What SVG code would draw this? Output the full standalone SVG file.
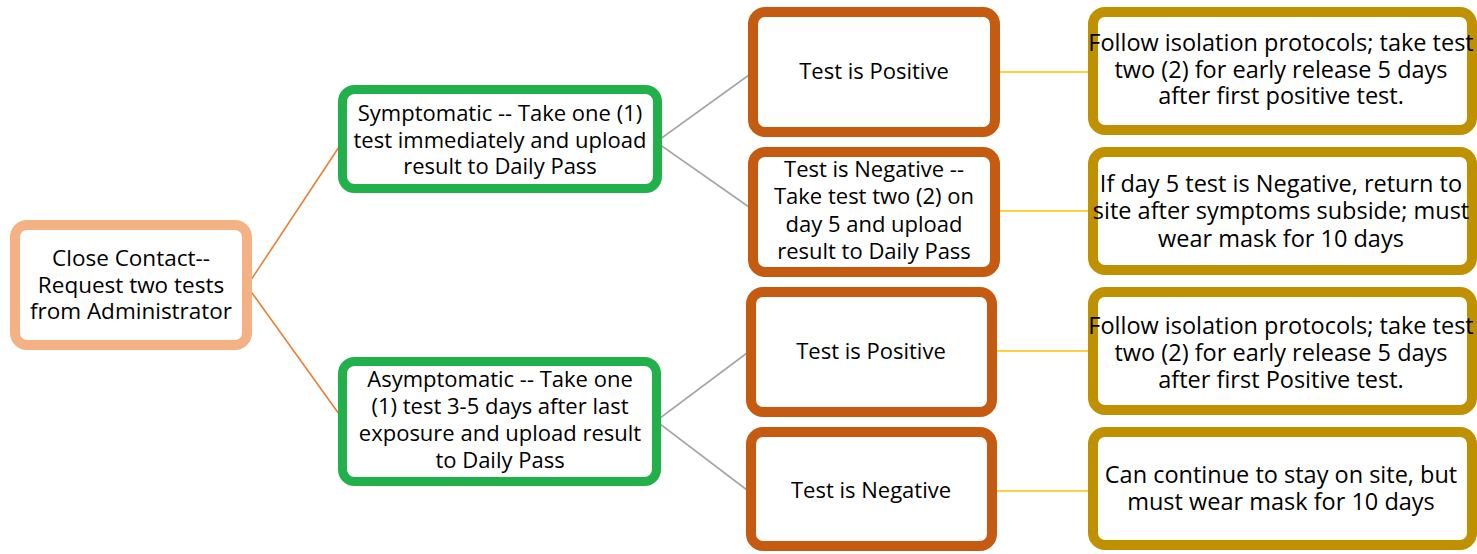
<svg xmlns="http://www.w3.org/2000/svg" width="1477" height="554" viewBox="0 0 1477 554">
<style>
text{font-family:"Open Sans","Noto Sans",sans-serif;font-size:22px;fill:#000;text-anchor:middle}
text.big{font-size:23.5px}
text.mid{font-size:22.5px}
.box{fill:#fff;stroke-width:10}
.root{stroke:#F4B183}
.lvl1{stroke:#22B04B;stroke-width:9}
.lvl2{stroke:#C55A11}
.lvl3{stroke:#BF9000}
.c-or{stroke:#ED7D31;stroke-width:1.6;fill:none}
.c-gr{stroke:#A5A5A5;stroke-width:1.6;fill:none}
.c-ye{stroke:#FFC000;stroke-width:1.6;fill:none}
</style>
<rect width="1477" height="554" fill="#fff"/>
<g id="connectors">
<polyline class="c-or" points="339,147 247,286 339,414"/>
<polyline class="c-gr" points="749,75 656,142 749,207"/>
<polyline class="c-gr" points="747,353 656,421 747,490"/>
<line class="c-ye" x1="998" y1="72" x2="1090" y2="72"/>
<line class="c-ye" x1="998" y1="211" x2="1090" y2="211"/>
<line class="c-ye" x1="996" y1="351" x2="1088" y2="351"/>
<line class="c-ye" x1="996" y1="491" x2="1088" y2="491"/>
</g>
<g id="close-contact">
<rect class="box root" x="15" y="225" width="232" height="120" rx="12"/>
<text class="mid" y="266"><tspan x="131">Close Contact--</tspan><tspan x="131" dy="26.5">Request two tests</tspan><tspan x="131" dy="26.5">from Administrator</tspan></text>
</g>
<g id="symptomatic">
<rect class="box lvl1" x="342.5" y="89.5" width="315" height="99" rx="12"/>
<text y="121"><tspan x="500">Symptomatic -- Take one (1)</tspan><tspan x="500" dy="26.5">test immediately and upload</tspan><tspan x="500" dy="26.5">result to Daily Pass</tspan></text>
</g>
<g id="asymptomatic">
<rect class="box lvl1" x="342.5" y="361.5" width="314" height="120" rx="12"/>
<text y="387"><tspan x="500">Asymptomatic -- Take one</tspan><tspan x="500" dy="27">(1) test 3-5 days after last</tspan><tspan x="500" dy="27">exposure and upload result</tspan><tspan x="500" dy="27">to Daily Pass</tspan></text>
</g>
<g id="sym-positive">
<rect class="box lvl2" x="753" y="12" width="242" height="120" rx="12"/>
<text x="874" y="79">Test is Positive</text>
</g>
<g id="sym-negative">
<rect class="box lvl2" x="753" y="152" width="242" height="120" rx="12"/>
<text y="177"><tspan x="874">Test is Negative --</tspan><tspan x="874" dy="27">Take test two (2) on</tspan><tspan x="874" dy="27.5">day 5 and upload</tspan><tspan x="874" dy="27">result to Daily Pass</tspan></text>
</g>
<g id="asym-positive">
<rect class="box lvl2" x="751" y="292" width="241" height="120" rx="12"/>
<text x="871" y="359">Test is Positive</text>
</g>
<g id="asym-negative">
<rect class="box lvl2" x="751" y="432" width="241" height="114" rx="12"/>
<text x="871" y="498">Test is Negative</text>
</g>
<g id="sym-positive-action">
<rect class="box lvl3" x="1093" y="12" width="379" height="118" rx="12"/>
<text class="big" y="51"><tspan x="1281">Follow isolation protocols; take test</tspan><tspan x="1281" dy="26.5">two (2) for early release 5 days</tspan><tspan x="1281" dy="26.5">after first positive test.</tspan></text>
</g>
<g id="sym-negative-action">
<rect class="box lvl3" x="1093" y="152" width="379" height="118" rx="12"/>
<text class="big" y="192"><tspan x="1281">If day 5 test is Negative, return to</tspan><tspan x="1281" dy="27">site after symptoms subside; must</tspan><tspan x="1281" dy="28">wear mask for 10 days</tspan></text>
</g>
<g id="asym-positive-action">
<rect class="box lvl3" x="1093" y="292" width="379" height="118" rx="12"/>
<text class="big" y="334"><tspan x="1281">Follow isolation protocols; take test</tspan><tspan x="1281" dy="27">two (2) for early release 5 days</tspan><tspan x="1281" dy="27">after first Positive test.</tspan></text>
</g>
<g id="asym-negative-action">
<rect class="box lvl3" x="1093" y="432" width="379" height="113" rx="12"/>
<text class="big" y="483"><tspan x="1281">Can continue to stay on site, but</tspan><tspan x="1281" dy="27">must wear mask for 10 days</tspan></text>
</g>
</svg>
